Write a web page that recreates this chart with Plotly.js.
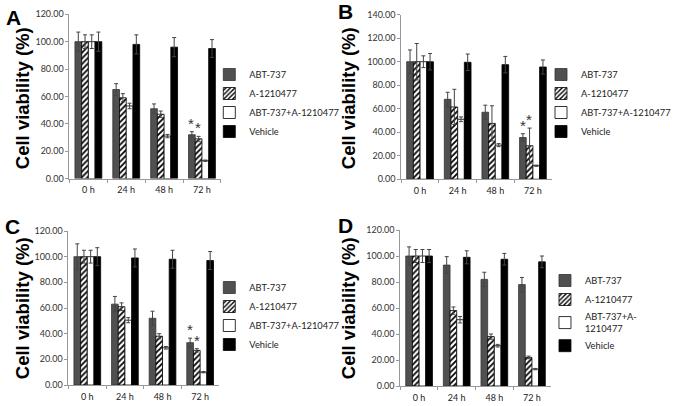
<!DOCTYPE html>
<html><head><meta charset="utf-8">
<script src="https://cdn.plot.ly/plotly-3.0.1.min.js"></script>
<style>html,body{margin:0;padding:0;background:#fff}#chart{width:677px;height:406px}</style>
</head><body><div id="chart"></div>
<script>
const categories = ['0 h', '24 h', '48 h', '72 h'];
const seriesNames = ['ABT-737', 'A-1210477', 'ABT-737+A-1210477', 'Vehicle'];
const seriesNamesD = ['ABT-737', 'A-1210477', 'ABT-737+A-<br>1210477', 'Vehicle'];
const panelLetters = ['A', 'B', 'C', 'D'];

// Panel A
const abtA = [100, 65, 51, 32];      const abtAErr = [7, 4.3, 3.5, 2.2];
const a121A = [100, 59, 47, 29];     const a121AErr = [5, 3, 2.3, 1.8];
const comboA = [100, 53, 31, 13];    const comboAErr = [5, 2, 1.2, 0.5];
const vehA = [100, 98, 96, 95];      const vehAErr = [7, 7, 7, 6.5];
// Panel B
const abtB = [100, 68, 57, 35.5];    const abtBErr = [10, 6, 6, 3.2];
const a121B = [100, 61.5, 47.5, 28.5]; const a121BErr = [15.5, 15, 15, 15];
const comboB = [100, 51, 29, 11.5];  const comboBErr = [5, 2, 1.3, 0.5];
const vehB = [100, 99.5, 97.5, 95.5]; const vehBErr = [7, 7, 7, 6];
// Panel C
const abtC = [100, 63, 52, 33];      const abtCErr = [10, 6, 5.5, 3.5];
const a121C = [100, 61, 38, 27];     const a121CErr = [5, 3, 2, 1.3];
const comboC = [100, 50.5, 29, 10];  const comboCErr = [5, 2, 1, 0.5];
const vehC = [100, 99, 98, 97];      const vehCErr = [7, 7, 7, 7];
// Panel D
const abtD = [100, 93, 82, 78];      const abtDErr = [7, 6.5, 5.5, 5.5];
const a121D = [100, 58, 38, 22];     const a121DErr = [5, 2.8, 2, 1];
const comboD = [100, 51, 31, 13];    const comboDErr = [5, 2.5, 1, 0.5];
const vehD = [100, 99, 97.5, 95.5];  const vehDErr = [5, 5, 4.5, 4.5];

const yMax = [120, 140, 120, 120];
const starred = [true, true, true, false];

const W = 677, H = 406;
const px = v => v / W, py = v => 1 - v / H;
// plot areas in pixels [left, right, bottom(y of 0), top(y of max)]
const boxes = [[72, 229, 178.5, 14.3], [416, 572, 179.2, 14.7], [71, 227, 385, 231], [415, 571, 386, 230]];
const legendPos = [[217, 60], [561, 60], [217, 273], [565, 266]];
const letterPos = [[14, 17], [358, 12], [13, 226], [358, 225]];
const titlePos = [[23, 98], [361, 98], [23, 308], [361, 308]];

const panels = [
  [[abtA, abtAErr], [a121A, a121AErr], [comboA, comboAErr], [vehA, vehAErr]],
  [[abtB, abtBErr], [a121B, a121BErr], [comboB, comboBErr], [vehB, vehBErr]],
  [[abtC, abtCErr], [a121C, a121CErr], [comboC, comboCErr], [vehC, vehCErr]],
  [[abtD, abtDErr], [a121D, a121DErr], [comboD, comboDErr], [vehD, vehDErr]]
];

const markers = [
  {color: '#505050', line: {color: '#333', width: 0.8}},
  {color: '#ffffff', line: {color: '#000', width: 0.8}, pattern: {shape: '/', fgcolor: '#000', bgcolor: '#fff', size: 4, solidity: 0.45}},
  {color: '#ffffff', line: {color: '#000', width: 0.8}},
  {color: '#000000', line: {color: '#000', width: 0.8}}
];

const bargap = 0.29;
const traces = [];
const layout = {
  width: W, height: H, margin: {l: 0, r: 0, t: 0, b: 0},
  paper_bgcolor: '#fff', plot_bgcolor: '#fff',
  barmode: 'group', bargap: bargap, bargroupgap: 0,
  font: {family: 'Lato, Arial, sans-serif', color: '#222'},
  annotations: []
};

panels.forEach((panel, p) => {
  const suf = p === 0 ? '' : String(p + 1);
  const legendId = 'legend' + suf;
  const b = boxes[p];
  panel.forEach((s, i) => {
    traces.push({
      type: 'bar', x: categories, y: s[0],
      name: (p === 3 ? seriesNamesD : seriesNames)[i],
      xaxis: 'x' + suf, yaxis: 'y' + suf, legend: legendId,
      marker: markers[i],
      error_y: {type: 'data', array: s[1], visible: true, color: '#444', thickness: 1, width: 2}
    });
  });
  layout['xaxis' + suf] = {
    domain: [px(b[0]), px(b[1])], anchor: 'y' + suf,
    showline: true, linecolor: '#999', linewidth: 1,
    ticks: 'outside', ticklen: 3, tickcolor: '#999', tickson: 'boundaries',
    ticklabelstandoff: 3,
    showgrid: false, zeroline: false,
    tickfont: {size: 9, color: '#222', family: 'Lato, Arial, sans-serif'}
  };
  layout['yaxis' + suf] = {
    domain: [py(b[2]), py(b[3])], anchor: 'x' + suf,
    range: [0, yMax[p]], dtick: 20, tickformat: '.2f',
    showline: true, linecolor: '#999', linewidth: 1,
    ticks: 'outside', ticklen: 3, tickcolor: '#999',
    showgrid: false, zeroline: false,
    tickfont: {size: 9, color: '#333', family: 'Lato, Arial, sans-serif'}
  };
  layout[legendId] = {
    x: px(legendPos[p][0]), y: py(legendPos[p][1]), xanchor: 'left', yanchor: 'top',
    xref: 'paper', yref: 'paper', bgcolor: 'rgba(0,0,0,0)',
    font: {size: 9.3, color: '#222', family: 'Lato, Arial, sans-serif'},
    traceorder: 'normal'
  };
  layout.annotations.push({
    text: '<b>' + panelLetters[p] + '</b>', xref: 'paper', yref: 'paper',
    x: px(letterPos[p][0]), y: py(letterPos[p][1]), xanchor: 'center', yanchor: 'middle',
    showarrow: false,
    font: {size: 21, family: 'Arial, Liberation Sans, sans-serif', color: '#000'}
  });
  layout.annotations.push({
    text: '<b>Cell viability (%)</b>', xref: 'paper', yref: 'paper', textangle: -90,
    x: px(titlePos[p][0]), y: py(titlePos[p][1]), xanchor: 'center', yanchor: 'middle',
    showarrow: false,
    font: {size: 18.5, family: 'Arial, Liberation Sans, sans-serif', color: '#000'}
  });
  if (starred[p]) {
    const barPx = (b[1] - b[0]) / categories.length * (1 - bargap) / 4;
    [0, 1].forEach(i => {
      const last = categories.length - 1;
      layout.annotations.push({
        text: '*', xref: 'x' + suf, yref: 'y' + suf,
        x: categories[last], y: panel[i][0][last] + panel[i][1][last],
        xshift: (i - 1.5) * barPx, yshift: -2, yanchor: 'bottom', showarrow: false,
        font: {size: 15, family: 'Arial, sans-serif', color: '#333'}
      });
    });
  }
});

Plotly.newPlot('chart', traces, layout, {displayModeBar: false, staticPlot: true});
</script></body></html>
